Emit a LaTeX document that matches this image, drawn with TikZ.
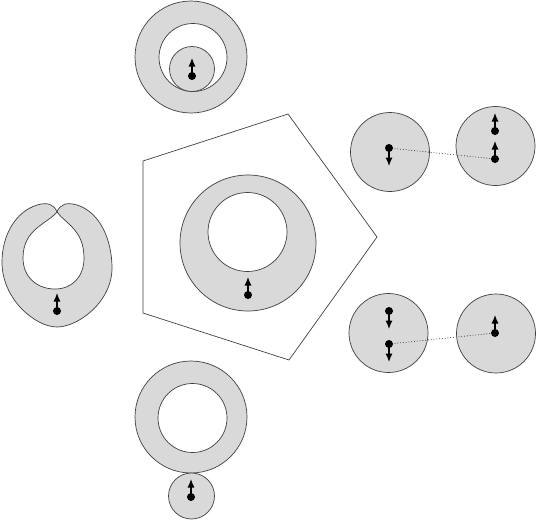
\documentclass[tikz,border=0pt]{standalone}
\usetikzlibrary{arrows.meta}
\definecolor{ringfill}{HTML}{D9D9D9}
\definecolor{edge}{HTML}{404040}
\tikzset{
  ring/.style={fill=ringfill, draw=edge, line width=0.7pt, even odd rule},
  disc/.style={fill=ringfill, draw=edge, line width=0.7pt},
  dot/.style={fill=black, draw=none},
  arr/.style={line width=1.1pt, -{Latex[length=8.5pt,width=7pt]}},
  link/.style={draw=edge, dotted, line width=0.8pt},
  poly/.style={draw=edge, line width=0.7pt}
}
\begin{document}
\begin{tikzpicture}[x=1pt,y=-1pt]
\useasboundingbox (0,0) rectangle (554,520);
% pentagon
\draw[poly] (143,161) -- (288,114) -- (377,237) -- (289,360) -- (143,313) -- cycle;
% top ring with inner disc
\path[ring] (191,57) circle (56) (193,57.5) circle (34);
\draw[disc] (192,69) circle (22.5);
\coordinate (t0) at (192,76);
\fill[dot] (t0) circle (4);
\draw[arr] (t0) -- (192,58);
% central eccentric ring
\path[ring] (248,243) circle (68) (247.5,232) circle (39.5);
\coordinate (c0) at (248,295);
\fill[dot] (c0) circle (4);
\draw[arr] (c0) -- (248,277);
% left pinched shape
\path[ring] (57,212) .. controls (60,204) and (67,202) .. (77,205)
   .. controls (100,212) and (112,240) .. (112,268)
   .. controls (112,302) and (78,327) .. (57,327)
   .. controls (36,327) and (2,300) .. (2,262)
   .. controls (2,236) and (15,212) .. (37,205)
   .. controls (47,202) and (54,204) .. (57,212) -- cycle
   (57,212) .. controls (47,224) and (23,229) .. (23,258)
   .. controls (23,277) and (37,289) .. (55,289)
   .. controls (72,289) and (84,277) .. (84,258)
   .. controls (84,230) and (66,224) .. (57,212) -- cycle;
\coordinate (l0) at (57,311);
\fill[dot] (l0) circle (4);
\draw[arr] (l0) -- (57,293);
% bottom ring and disc
\path[ring] (191,417) circle (56) (192.5,418) circle (34.5);
\draw[disc] (191.5,496) circle (23);
\coordinate (b0) at (191,497);
\fill[dot] (b0) circle (4);
\draw[arr] (b0) -- (191,479);
% top-right pair
\draw[disc] (390,152) circle (39.5);
\draw[disc] (495.5,146) circle (39.5);
\coordinate (p1) at (389,148);
\coordinate (p2) at (495,131);
\coordinate (p3) at (495,159);
\draw[link] (p1) -- (p3);
\fill[dot] (p1) circle (4);
\draw[arr] (p1) -- (389,166);
\fill[dot] (p2) circle (4);
\draw[arr] (p2) -- (495,113);
\fill[dot] (p3) circle (4);
\draw[arr] (p3) -- (495,141);
% bottom-right pair
\draw[disc] (388.5,333) circle (39.5);
\draw[disc] (496,333.5) circle (39.5);
\coordinate (q1) at (389,311);
\coordinate (q2) at (389,344);
\coordinate (q3) at (495,333);
\draw[link] (q2) -- (q3);
\fill[dot] (q1) circle (4);
\draw[arr] (q1) -- (389,329);
\fill[dot] (q2) circle (4);
\draw[arr] (q2) -- (389,362);
\fill[dot] (q3) circle (4);
\draw[arr] (q3) -- (495,315);
\end{tikzpicture}
\end{document}
